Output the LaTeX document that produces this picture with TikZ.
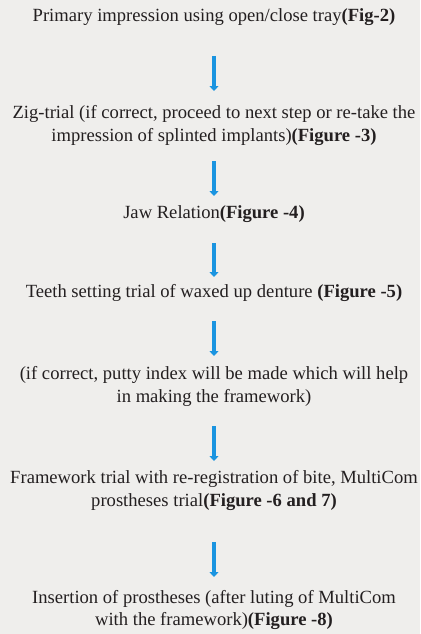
\documentclass[tikz,border=0pt]{standalone}
\usepackage{fontspec}
\setmainfont{Liberation Serif}
\usepackage{tikz}
\usetikzlibrary{arrows.meta,positioning}

\definecolor{bgpaper}{HTML}{EFEEEC}
\definecolor{flowblue}{HTML}{1A94E0}
\definecolor{inktext}{HTML}{231F20}

\tikzset{
  stepbox/.style={align=center, inner sep=0pt, text=inktext,
    font=\fontsize{18.6pt}{22.5pt}\selectfont},
  flow/.style={draw=flowblue, line width=4pt,
    -{Triangle[width=9pt,length=5pt]}}
}

\begin{document}
\begin{tikzpicture}[x=1pt,y=-1pt]
\fill[bgpaper] (0,0) rectangle (420,634);
\useasboundingbox (0,0) rectangle (420,634);

\node[stepbox] (primary) at (214,17) {Primary impression using open/close tray\textbf{(Fig-2)}};
\node[stepbox] (zigtrial) at (214,125.5) {Zig-trial (if correct, proceed to next step or re-take the\\impression of splinted implants)\textbf{(Figure -3)}};
\node[stepbox] (jaw) at (214,214) {Jaw Relation\textbf{(Figure -4)}};
\node[stepbox] (teeth) at (214,293) {Teeth setting trial of waxed up denture \textbf{(Figure -5)}};
\node[stepbox] (putty) at (214,386.5) {(if correct, putty index will be made which will help\\in making the framework)};
\node[stepbox] (frame) at (214,490.5) {Framework trial with re-registration of bite, MultiCom\\prostheses trial\textbf{(Figure -6 and 7)}};
\node[stepbox] (insert) at (214,610) {Insertion of prostheses (after luting of MultiCom\\with the framework)\textbf{(Figure -8)}};

\draw[flow, shorten <=39pt, shorten >=34.5pt] (primary.center) -- (zigtrial.center);
\draw[flow, shorten <=35.5pt, shorten >=18pt] (zigtrial.center) -- (jaw.center);
\draw[flow, shorten <=29pt, shorten >=16pt] (jaw.center) -- (teeth.center);
\draw[flow, shorten <=28pt, shorten >=30.5pt] (teeth.center) -- (putty.center);
\draw[flow, shorten <=39.5pt, shorten >=29.5pt] (putty.center) -- (frame.center);
\draw[flow, shorten <=51.5pt, shorten >=33pt] (frame.center) -- (insert.center);

\end{tikzpicture}
\end{document}
